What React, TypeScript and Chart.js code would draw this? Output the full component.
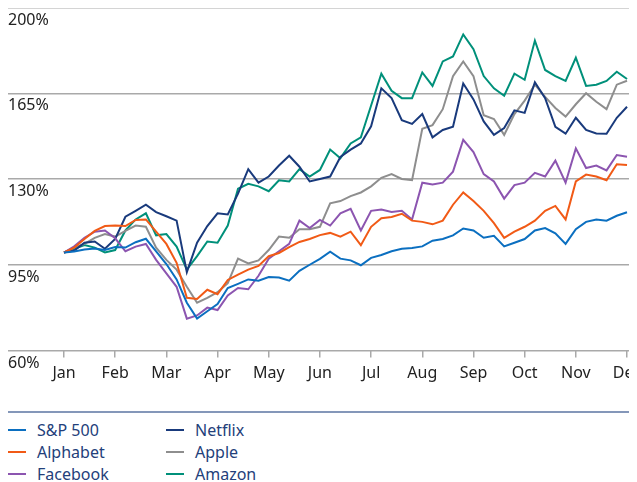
import React, { useEffect, useRef } from "react";
import { Chart, registerables } from "chart.js";

Chart.register(...registerables);

const months = ["Jan", "Feb", "Mar", "Apr", "May", "Jun", "Jul", "Aug", "Sep", "Oct", "Nov", "Dec"];
const yTicks = [60, 95, 130, 165, 200];

// positions in months (Jan = 0), every 0.2 month
const xPos = Array.from({ length: 56 }, (_, i) => Math.round(i * 2) / 10);

const sp500 = [100, 100.4, 101.2, 101.6, 101.0, 102.2, 102.0, 104.2, 105.6, 100.5, 95.3, 89, 79.5, 73, 76, 79, 85.5, 87.2, 89, 88.5, 90, 89.8, 88.5, 92.5, 95, 97.4, 100.3, 97.5, 96.8, 94.8, 97.8, 99, 100.5, 101.5, 101.8, 102.5, 104.8, 105.5, 107, 109.8, 109, 106, 106.8, 102.5, 104, 105.5, 109, 110, 107.8, 103.5, 109.5, 112.5, 113.5, 113, 115, 116.4];
const alphabet = [100, 102, 105.5, 108.8, 110.8, 111, 110.8, 113.3, 113.5, 108.5, 103.5, 95.8, 81.5, 81, 84.8, 83, 88.8, 91, 93, 94.5, 98.5, 99.8, 102.2, 104.3, 105.5, 107.1, 108, 106.5, 108.5, 103, 110.5, 114, 114.5, 115.8, 113, 112.5, 111.5, 113, 119.5, 124.5, 121, 117, 112, 106, 108.5, 110.5, 113, 117, 119, 113.5, 129, 131.8, 131, 129.5, 136, 135.7];
const facebook = [100, 102.5, 106, 108.5, 109, 105.8, 100.5, 102.4, 103.5, 97, 91.5, 86, 73, 74.3, 77.5, 76.5, 82.5, 85.5, 85, 90.5, 97.5, 100.5, 103.5, 113, 110, 113.3, 111, 116, 117.8, 109, 117, 117.5, 116.5, 117, 113.5, 128.5, 127.8, 128.5, 133, 146, 141, 132, 129, 122, 127.5, 128.5, 132.5, 131, 137.5, 128.5, 142.5, 134.5, 135.5, 133.5, 139.8, 139.1];
const netflix = [100, 100.8, 104, 104.5, 101.5, 105.5, 114.6, 117, 119.5, 116.5, 114.8, 113, 92, 104, 110.8, 116, 115.5, 124, 134, 128.5, 131, 135.5, 139.5, 135, 129, 130, 131, 139, 142, 144.5, 151.5, 167, 163, 154, 152.5, 156.5, 147, 150, 151.3, 169, 162.5, 153.5, 148, 150.8, 158, 157, 169.5, 163, 151.3, 148.5, 155, 150, 148.6, 148.5, 155, 159.5];
const apple = [100, 102, 103.5, 106, 107.5, 106.5, 108.8, 111, 110.5, 102, 97, 93, 86, 79.5, 81.5, 83.8, 87.5, 97.5, 95.5, 96.8, 101, 106.5, 106, 109.5, 109.5, 110.5, 120.1, 121, 123, 124.5, 127, 130.5, 132, 130, 129.5, 150.5, 152, 158.5, 172, 178, 172, 156, 154.5, 148, 156.5, 162, 168.5, 163.5, 159, 155.5, 160.5, 165, 161.5, 158.5, 168.5, 170.1];
const amazon = [100, 101.5, 103, 102, 100, 101, 109, 113.5, 116, 107, 107.5, 102.4, 93, 98.5, 104.5, 104, 111, 126, 128, 127, 125, 129.5, 129, 134, 131, 133.7, 142, 138.5, 144.5, 147, 160, 173, 166, 163, 163, 173.5, 168, 178, 180, 189, 183, 172, 167, 164, 173, 170.5, 186.5, 174.5, 172, 170, 179.5, 168, 168.5, 170, 173.8, 170.8];

const seriesNames = ["S&P 500", "Alphabet", "Facebook", "Netflix", "Apple", "Amazon"];
const seriesValues = [sp500, alphabet, facebook, netflix, apple, amazon];
const seriesColors = ["#0b6fc0", "#f15a16", "#8c55b0", "#193a7c", "#8e8e8e", "#00907a"];

const FONT = "'Noto Sans', 'DejaVu Sans', sans-serif";

export default function App() {
  const ref = useRef<HTMLCanvasElement | null>(null);

  useEffect(() => {
    document.documentElement.style.overflow = "hidden";
    document.body.style.overflow = "hidden";
    const canvas = ref.current;
    if (!canvas) return;
    const chart = new Chart(canvas, {
      type: "line",
      data: {
        datasets: seriesNames.map((name, k) => ({
          label: name,
          data: seriesValues[k].map((v, i) => ({ x: xPos[i], y: v })),
          borderColor: seriesColors[k],
          backgroundColor: seriesColors[k],
          borderWidth: 2,
          pointRadius: 0,
          tension: 0,
          fill: false,
        })),
      },
      options: {
        animation: false,
        responsive: false,
        devicePixelRatio: 1,
        layout: { padding: { top: 1.5, left: 0, right: 0, bottom: 0 } },
        plugins: { legend: { display: false }, tooltip: { enabled: false } },
        scales: {
          x: {
            type: "linear",
            min: -1.094,
            max: 11.195,
            afterBuildTicks: (scale: any) => {
              scale.ticks = months.map((_, i) => ({ value: i }));
            },
            afterFit: (scale: any) => {
              scale.height = 41.5;
              scale.paddingLeft = 0;
              scale.paddingRight = 0;
            },
            grid: {
              drawOnChartArea: false,
              drawTicks: true,
              tickLength: 7,
              color: "#a9a9a9",
              lineWidth: 1.5,
            },
            border: { display: false },
            ticks: {
              autoSkip: false,
              maxRotation: 0,
              padding: 6,
              color: "#222",
              font: { family: FONT, size: 16 },
              callback: (v: any) => months[Math.round(Number(v))] ?? "",
            },
          },
          y: {
            min: 60,
            max: 200,
            afterBuildTicks: (scale: any) => {
              scale.ticks = yTicks.map((v) => ({ value: v }));
            },
            afterFit: (scale: any) => {
              scale.width = 0;
              scale.paddingTop = 0;
              scale.paddingBottom = 0;
            },
            grid: {
              drawTicks: false,
              color: "#a9a9a9",
              lineWidth: 1.5,
            },
            border: { display: false },
            ticks: {
              mirror: true,
              padding: 0,
              labelOffset: 12.5,
              crossAlign: "near",
              color: "#222",
              font: { family: FONT, size: 16 },
              callback: (v: any) => `${v}%`,
            },
          },
        },
      },
    });
    return () => chart.destroy();
  }, []);

  const col = (start: number) =>
    seriesNames.slice(start, start + 3).map((name, j) => (
      <div key={name} style={{ display: "flex", alignItems: "center", height: 22 }}>
        <span
          style={{
            display: "inline-block",
            width: 18,
            height: 2,
            background: seriesColors[start + j],
            marginRight: 11,
          }}
        />
        <span>{name}</span>
      </div>
    ));

  return (
    <div style={{ width: 629, marginTop: -2 }}>
      <canvas ref={ref} width={629} height={386} style={{ display: "block", width: 629, height: 386 }} />
      <div
        style={{
          marginTop: 18.5,
          borderTop: "2px solid #8497b9",
          paddingTop: 6.5,
          display: "flex",
          fontFamily: FONT,
          fontSize: 16,
          color: "#23407a",
        }}
      >
        <div style={{ width: 158 }}>{col(0)}</div>
        <div>{col(3)}</div>
      </div>
    </div>
  );
}
